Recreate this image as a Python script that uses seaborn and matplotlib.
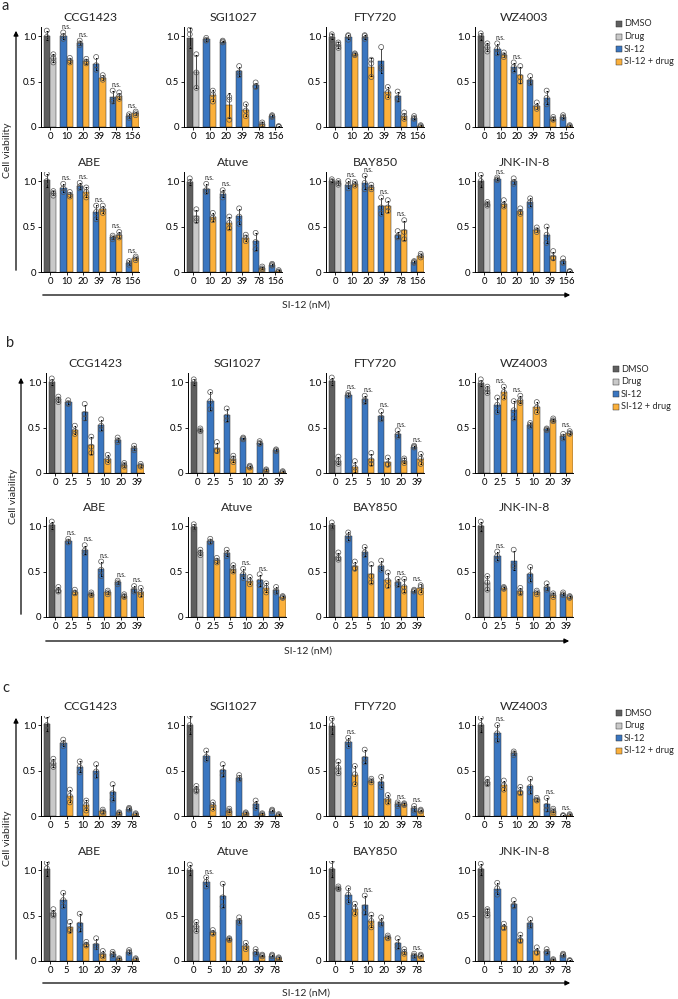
import matplotlib
matplotlib.use("Agg")
import matplotlib.pyplot as plt
from matplotlib.patches import FancyArrowPatch, Rectangle
import pandas as pd
import seaborn as sns


DRUGS = ["CCG1423", "SGI1027", "FTY720", "WZ4003", "ABE", "Atuve", "BAY850", "JNK-IN-8"]
CONDITIONS = ["DMSO", "Drug", "SI-12", "SI-12 + drug"]
COLORS = {
    "DMSO": "#5f5f5f",
    "Drug": "#c9c9c9",
    "SI-12": "#3a76c0",
    "SI-12 + drug": "#fbb03b",
}

DOSES_A = ["0", "10", "20", "39", "78", "156"]
DOSES_A_JNK = ["0", "10", "20", "10", "39", "156"]  # labels as printed in the source
DOSES_B = ["0", "2.5", "5", "10", "20", "39"]
DOSES_C = ["0", "5", "10", "20", "39", "78"]

# replicates per bar: DMSO, Drug, then (SI-12, SI-12 + drug) for each dose
VIABILITY_A = {
    "CCG1423": [(0.96, 0.99, 1.06), (0.71, 0.76, 0.80), (0.97, 1.00, 1.04), (0.71, 0.73, 0.76),
                (0.90, 0.92, 0.95), (0.70, 0.72, 0.75), (0.63, 0.68, 0.77), (0.52, 0.54, 0.57),
                (0.28, 0.30, 0.40), (0.31, 0.34, 0.38), (0.10, 0.12, 0.14), (0.13, 0.15, 0.17)],
    "SGI1027": [(0.86, 1.02, 1.07), (0.43, 0.60, 0.80), (0.95, 0.96, 0.98), (0.28, 0.36, 0.40),
                (0.93, 0.94, 0.95), (0.08, 0.30, 0.33), (0.57, 0.60, 0.67), (0.12, 0.18, 0.25),
                (0.44, 0.45, 0.49), (0.01, 0.03, 0.05), (0.11, 0.12, 0.13), (0.00, 0.005, 0.01)],
    "FTY720": [(0.96, 1.00, 1.02), (0.87, 0.91, 0.93), (0.96, 1.00, 1.01), (0.79, 0.80, 0.81),
               (0.97, 1.00, 1.01), (0.55, 0.70, 0.74), (0.64, 0.66, 0.88), (0.33, 0.38, 0.44),
               (0.30, 0.32, 0.39), (0.09, 0.12, 0.16), (0.09, 0.10, 0.12), (0.00, 0.01, 0.02)],
    "WZ4003": [(0.96, 1.00, 1.03), (0.83, 0.88, 0.92), (0.81, 0.86, 0.92), (0.77, 0.79, 0.82),
               (0.62, 0.66, 0.71), (0.50, 0.55, 0.67), (0.48, 0.50, 0.56), (0.20, 0.22, 0.27),
               (0.25, 0.32, 0.40), (0.08, 0.09, 0.11), (0.10, 0.11, 0.13), (0.00, 0.01, 0.02)],
    "ABE": [(0.94, 1.00, 1.08), (0.84, 0.87, 0.89), (0.88, 0.92, 0.97), (0.83, 0.85, 0.88),
            (0.92, 0.94, 0.98), (0.82, 0.88, 0.93), (0.58, 0.66, 0.73), (0.65, 0.69, 0.73),
            (0.36, 0.38, 0.40), (0.38, 0.40, 0.44), (0.08, 0.10, 0.12), (0.13, 0.15, 0.17)],
    "Atuve": [(0.96, 0.99, 1.03), (0.56, 0.59, 0.69), (0.88, 0.90, 0.97), (0.57, 0.60, 0.65),
              (0.82, 0.86, 0.90), (0.48, 0.54, 0.61), (0.53, 0.61, 0.70), (0.34, 0.38, 0.41),
              (0.25, 0.33, 0.43), (0.03, 0.04, 0.06), (0.07, 0.08, 0.09), (0.00, 0.005, 0.02)],
    "BAY850": [(0.99, 1.00, 1.02), (0.96, 0.98, 1.00), (0.92, 0.96, 1.00), (0.95, 0.97, 0.99),
               (0.91, 0.98, 1.06), (0.91, 0.93, 0.96), (0.64, 0.71, 0.82), (0.67, 0.71, 0.79),
               (0.38, 0.39, 0.45), (0.36, 0.44, 0.57), (0.10, 0.11, 0.12), (0.16, 0.18, 0.20)],
    "JNK-IN-8": [(0.94, 1.00, 1.07), (0.73, 0.75, 0.77), (1.01, 1.02, 1.04), (0.72, 0.74, 0.79),
                 (0.97, 0.99, 1.03), (0.64, 0.66, 0.70), (0.73, 0.77, 0.81), (0.44, 0.46, 0.49),
                 (0.32, 0.41, 0.50), (0.15, 0.16, 0.23), (0.10, 0.11, 0.15), (0.00, 0.005, 0.01)],
}

VIABILITY_B = {
    "CCG1423": [(0.97, 1.00, 1.04), (0.78, 0.81, 0.84), (0.76, 0.77, 0.80), (0.43, 0.46, 0.52),
                (0.60, 0.65, 0.76), (0.22, 0.29, 0.40), (0.48, 0.52, 0.59), (0.12, 0.15, 0.20),
                (0.34, 0.36, 0.39), (0.07, 0.09, 0.11), (0.25, 0.27, 0.30), (0.07, 0.08, 0.10)],
    "SGI1027": [(0.97, 1.00, 1.03), (0.46, 0.47, 0.49), (0.70, 0.79, 0.89), (0.24, 0.25, 0.34),
                (0.58, 0.62, 0.71), (0.12, 0.16, 0.19), (0.37, 0.38, 0.39), (0.06, 0.07, 0.08),
                (0.32, 0.33, 0.35), (0.02, 0.03, 0.04), (0.24, 0.25, 0.26), (0.00, 0.01, 0.02)],
    "FTY720": [(0.97, 1.00, 1.05), (0.10, 0.13, 0.18), (0.85, 0.86, 0.88), (0.02, 0.06, 0.13),
               (0.78, 0.80, 0.85), (0.10, 0.14, 0.22), (0.59, 0.61, 0.68), (0.09, 0.10, 0.17),
               (0.40, 0.42, 0.47), (0.11, 0.14, 0.16), (0.28, 0.29, 0.30), (0.10, 0.16, 0.21)],
    "WZ4003": [(0.96, 0.99, 1.03), (0.88, 0.92, 0.95), (0.67, 0.75, 0.83), (0.83, 0.89, 0.95),
               (0.60, 0.69, 0.79), (0.77, 0.80, 0.85), (0.51, 0.53, 0.55), (0.67, 0.72, 0.78),
               (0.47, 0.48, 0.49), (0.57, 0.58, 0.60), (0.38, 0.40, 0.43), (0.43, 0.44, 0.46)],
    "ABE": [(0.97, 1.00, 1.05), (0.28, 0.29, 0.33), (0.82, 0.83, 0.86), (0.26, 0.27, 0.30),
            (0.70, 0.73, 0.79), (0.24, 0.25, 0.27), (0.45, 0.52, 0.61), (0.25, 0.27, 0.29),
            (0.36, 0.38, 0.40), (0.22, 0.23, 0.25), (0.28, 0.30, 0.34), (0.24, 0.27, 0.32)],
    "Atuve": [(0.97, 0.99, 1.02), (0.68, 0.71, 0.74), (0.82, 0.83, 0.86), (0.60, 0.62, 0.65),
              (0.67, 0.70, 0.74), (0.50, 0.53, 0.57), (0.43, 0.47, 0.53), (0.36, 0.40, 0.44),
              (0.35, 0.39, 0.47), (0.27, 0.32, 0.37), (0.27, 0.29, 0.33), (0.21, 0.22, 0.23)],
    "BAY850": [(0.98, 1.00, 1.04), (0.63, 0.65, 0.71), (0.85, 0.89, 0.93), (0.53, 0.54, 0.61),
               (0.68, 0.71, 0.77), (0.38, 0.45, 0.58), (0.52, 0.55, 0.62), (0.34, 0.40, 0.49),
               (0.35, 0.37, 0.42), (0.28, 0.33, 0.42), (0.28, 0.29, 0.30), (0.27, 0.33, 0.35)],
    "JNK-IN-8": [(0.95, 0.99, 1.05), (0.30, 0.38, 0.45), (0.63, 0.67, 0.72), (0.31, 0.32, 0.33),
                 (0.55, 0.57, 0.74), (0.26, 0.28, 0.32), (0.40, 0.46, 0.55), (0.25, 0.27, 0.29),
                 (0.30, 0.32, 0.37), (0.22, 0.24, 0.26), (0.24, 0.25, 0.27), (0.21, 0.22, 0.23)],
}

VIABILITY_C = {
    "CCG1423": [(0.94, 1.00, 1.10), (0.54, 0.58, 0.63), (0.77, 0.80, 0.84), (0.15, 0.22, 0.29),
                (0.48, 0.54, 0.60), (0.06, 0.12, 0.17), (0.44, 0.49, 0.57), (0.04, 0.05, 0.07),
                (0.18, 0.25, 0.35), (0.02, 0.03, 0.04), (0.07, 0.08, 0.09), (0.01, 0.02, 0.03)],
    "SGI1027": [(0.90, 1.00, 1.10), (0.27, 0.29, 0.33), (0.62, 0.65, 0.72), (0.08, 0.12, 0.15),
                (0.45, 0.49, 0.57), (0.04, 0.06, 0.08), (0.40, 0.42, 0.45), (0.02, 0.03, 0.04),
                (0.09, 0.12, 0.17), (0.01, 0.02, 0.03), (0.05, 0.06, 0.07), (0.00, 0.01, 0.02)],
    "FTY720": [(0.90, 1.00, 1.07), (0.47, 0.53, 0.60), (0.77, 0.81, 0.86), (0.35, 0.46, 0.55),
               (0.59, 0.63, 0.73), (0.37, 0.39, 0.41), (0.32, 0.36, 0.43), (0.15, 0.18, 0.23),
               (0.11, 0.13, 0.15), (0.12, 0.13, 0.14), (0.06, 0.08, 0.11), (0.05, 0.06, 0.07)],
    "WZ4003": [(0.93, 1.00, 1.08), (0.35, 0.37, 0.41), (0.83, 0.91, 1.00), (0.29, 0.34, 0.39),
               (0.67, 0.69, 0.71), (0.25, 0.26, 0.32), (0.26, 0.32, 0.41), (0.17, 0.18, 0.20),
               (0.07, 0.11, 0.20), (0.04, 0.06, 0.08), (0.00, 0.00, 0.01), (0.00, 0.01, 0.02)],
    "ABE": [(0.93, 1.02, 1.08), (0.50, 0.52, 0.57), (0.60, 0.67, 0.75), (0.33, 0.35, 0.43),
            (0.34, 0.40, 0.52), (0.17, 0.18, 0.21), (0.15, 0.17, 0.25), (0.05, 0.07, 0.11),
            (0.06, 0.08, 0.10), (0.01, 0.02, 0.03), (0.09, 0.10, 0.12), (0.01, 0.02, 0.03)],
    "Atuve": [(0.95, 1.00, 1.06), (0.33, 0.38, 0.43), (0.82, 0.87, 0.92), (0.30, 0.31, 0.34),
              (0.60, 0.70, 0.85), (0.23, 0.24, 0.25), (0.42, 0.44, 0.48), (0.13, 0.16, 0.20),
              (0.08, 0.10, 0.13), (0.05, 0.06, 0.07), (0.05, 0.06, 0.07), (0.02, 0.03, 0.04)],
    "BAY850": [(0.93, 1.00, 1.10), (0.79, 0.80, 0.82), (0.65, 0.73, 0.80), (0.52, 0.58, 0.63),
               (0.53, 0.59, 0.72), (0.37, 0.44, 0.51), (0.40, 0.42, 0.48), (0.25, 0.26, 0.28),
               (0.15, 0.18, 0.25), (0.08, 0.10, 0.13), (0.05, 0.06, 0.08), (0.05, 0.06, 0.07)],
    "JNK-IN-8": [(0.95, 1.00, 1.07), (0.50, 0.55, 0.57), (0.73, 0.80, 0.86), (0.36, 0.37, 0.41),
                 (0.60, 0.61, 0.67), (0.22, 0.23, 0.29), (0.38, 0.40, 0.46), (0.09, 0.10, 0.15),
                 (0.09, 0.10, 0.13), (0.00, 0.01, 0.02), (0.06, 0.07, 0.08), (0.00, 0.00, 0.01)],
}

# dose groups (1-5) marked n.s.
NS_A = {"CCG1423": [1, 2, 4, 5], "SGI1027": [], "FTY720": [], "WZ4003": [1, 2],
        "ABE": [1, 2, 3, 4, 5], "Atuve": [1, 2], "BAY850": [1, 2, 3, 4], "JNK-IN-8": [1]}
NS_B = {"CCG1423": [], "SGI1027": [], "FTY720": [1, 2, 3, 4, 5], "WZ4003": [1, 2, 5],
        "ABE": [1, 2, 3, 4, 5], "Atuve": [3, 4], "BAY850": [4, 5], "JNK-IN-8": [1]}
NS_C = {"CCG1423": [], "SGI1027": [], "FTY720": [1, 4, 5], "WZ4003": [1, 4, 5],
        "ABE": [], "Atuve": [1], "BAY850": [2, 5], "JNK-IN-8": []}

W, H = 678, 999
AX_W, AX_H = 98, 100


def fx(x):
    return x / W


def fy(y):
    return 1 - y / H


def draw_bars(fig, left, bottom, title, reps, doses, ns):
    ax = fig.add_axes([fx(left), fy(bottom), AX_W / W, AX_H / H])
    rows = []
    for i, values in enumerate(reps):
        for v in values:
            rows.append({"pos": i // 2, "side": "L" if i % 2 == 0 else "R", "value": v})
    df = pd.DataFrame(rows)

    sns.barplot(data=df, x="pos", y="value", hue="side", hue_order=["L", "R"],
                errorbar="sd", capsize=0.2, width=0.75, linewidth=0.35, edgecolor="#333333",
                err_kws={"linewidth": 0.5, "color": "black"}, legend=False, ax=ax)
    for j, bar in enumerate(ax.containers[0]):
        bar.set_facecolor(COLORS["DMSO"] if j == 0 else COLORS["SI-12"])
    for j, bar in enumerate(ax.containers[1]):
        bar.set_facecolor(COLORS["Drug"] if j == 0 else COLORS["SI-12 + drug"])

    sns.stripplot(data=df, x="pos", y="value", hue="side", hue_order=["L", "R"],
                  dodge=True, jitter=False, size=3.6, palette=["white", "white"],
                  edgecolor="#555555", linewidth=0.5, legend=False, ax=ax)
    for coll in ax.collections:
        coll.set_facecolor("none")

    for g in ns:
        top = max(max(reps[2 * g]), max(reps[2 * g + 1]))
        ax.text(g, top + 0.03, "n.s.", ha="center", va="bottom", fontsize=4.8, clip_on=False)

    ax.set_xlim(-0.55, 5.4)
    ax.set_ylim(0, 1.1)
    ax.set_xticks(range(6))
    ax.set_xticklabels(doses)
    ax.set_yticks([0, 0.5, 1.0])
    ax.set_yticklabels(["0", "0.5", "1.0"])
    ax.set_xlabel("")
    ax.set_ylabel("")
    ax.set_title(title, fontsize=8.8, pad=4.5)
    ax.tick_params(labelsize=6.8, length=2, width=0.6, pad=1.5)
    sns.despine(ax=ax)
    return ax


def draw_panel(fig, letter, data, ns_map, doses, lefts, bottoms, v_arrow, h_arrow, legend_x, legend_y):
    for k, drug in enumerate(DRUGS):
        row, col = divmod(k, 4)
        labels = DOSES_A_JNK if (letter == "a" and drug == "JNK-IN-8") else doses
        draw_bars(fig, lefts[col], bottoms[row], drug, data[drug], labels, ns_map[drug])

    vx, vy0, vy1, label_x = v_arrow
    fig.add_artist(FancyArrowPatch((fx(vx), fy(vy0)), (fx(vx), fy(vy1)), transform=fig.transFigure,
                                   arrowstyle="-|>", mutation_scale=7, linewidth=0.9, color="black"))
    fig.text(fx(label_x), fy((vy0 + vy1) / 2), "Cell viability", rotation=90,
             ha="center", va="center", fontsize=7.5)

    hx0, hx1, hy = h_arrow
    fig.add_artist(FancyArrowPatch((fx(hx0), fy(hy)), (fx(hx1), fy(hy)), transform=fig.transFigure,
                                   arrowstyle="-|>", mutation_scale=7, linewidth=0.9, color="black"))
    fig.text(fx((hx0 + hx1) / 2), fy(hy + 10), "SI-12 (nM)", ha="center", va="center", fontsize=7.5)

    for k, cond in enumerate(CONDITIONS):
        y = legend_y + k * 12.6
        fig.add_artist(Rectangle((fx(legend_x), fy(y + 3)), 6 / W, 6 / H, transform=fig.transFigure,
                                 facecolor=COLORS[cond], edgecolor="#333333", linewidth=0.35))
        fig.text(fx(legend_x + 8), fy(y), cond, ha="left", va="center", fontsize=6.6)


def main() -> None:
    sns.set_theme(style="ticks")
    plt.rcParams["font.family"] = ["Lato", "DejaVu Sans"]
    plt.rcParams["axes.linewidth"] = 0.7
    plt.rcParams["axes.edgecolor"] = "black"
    plt.rcParams["xtick.color"] = "black"
    plt.rcParams["ytick.color"] = "black"

    fig = plt.figure(figsize=(W / 100, H / 100), dpi=100)

    draw_panel(fig, "a", VIABILITY_A, NS_A, DOSES_A, [41, 184, 326, 475], [127, 272],
               (16, 273, 28, 8), (40, 573, 295), 616, 24)
    draw_panel(fig, "b", VIABILITY_B, NS_B, DOSES_B, [46, 188, 326, 475], [473, 617],
               (21, 617, 375, 13), (43, 572, 641), 613, 369)
    draw_panel(fig, "c", VIABILITY_C, NS_C, DOSES_C, [41, 184, 326, 475], [816, 961],
               (16, 962, 715, 8), (40, 573, 983), 616, 713)

    fig.text(fx(2), fy(6), "a", ha="left", va="center", fontsize=10.5)
    fig.text(fx(6), fy(343), "b", ha="left", va="center", fontsize=10.5)
    fig.text(fx(2), fy(688), "c", ha="left", va="center", fontsize=10.5)

    fig.savefig("out.png", dpi=100)
    plt.close(fig)


if __name__ == "__main__":
    main()
